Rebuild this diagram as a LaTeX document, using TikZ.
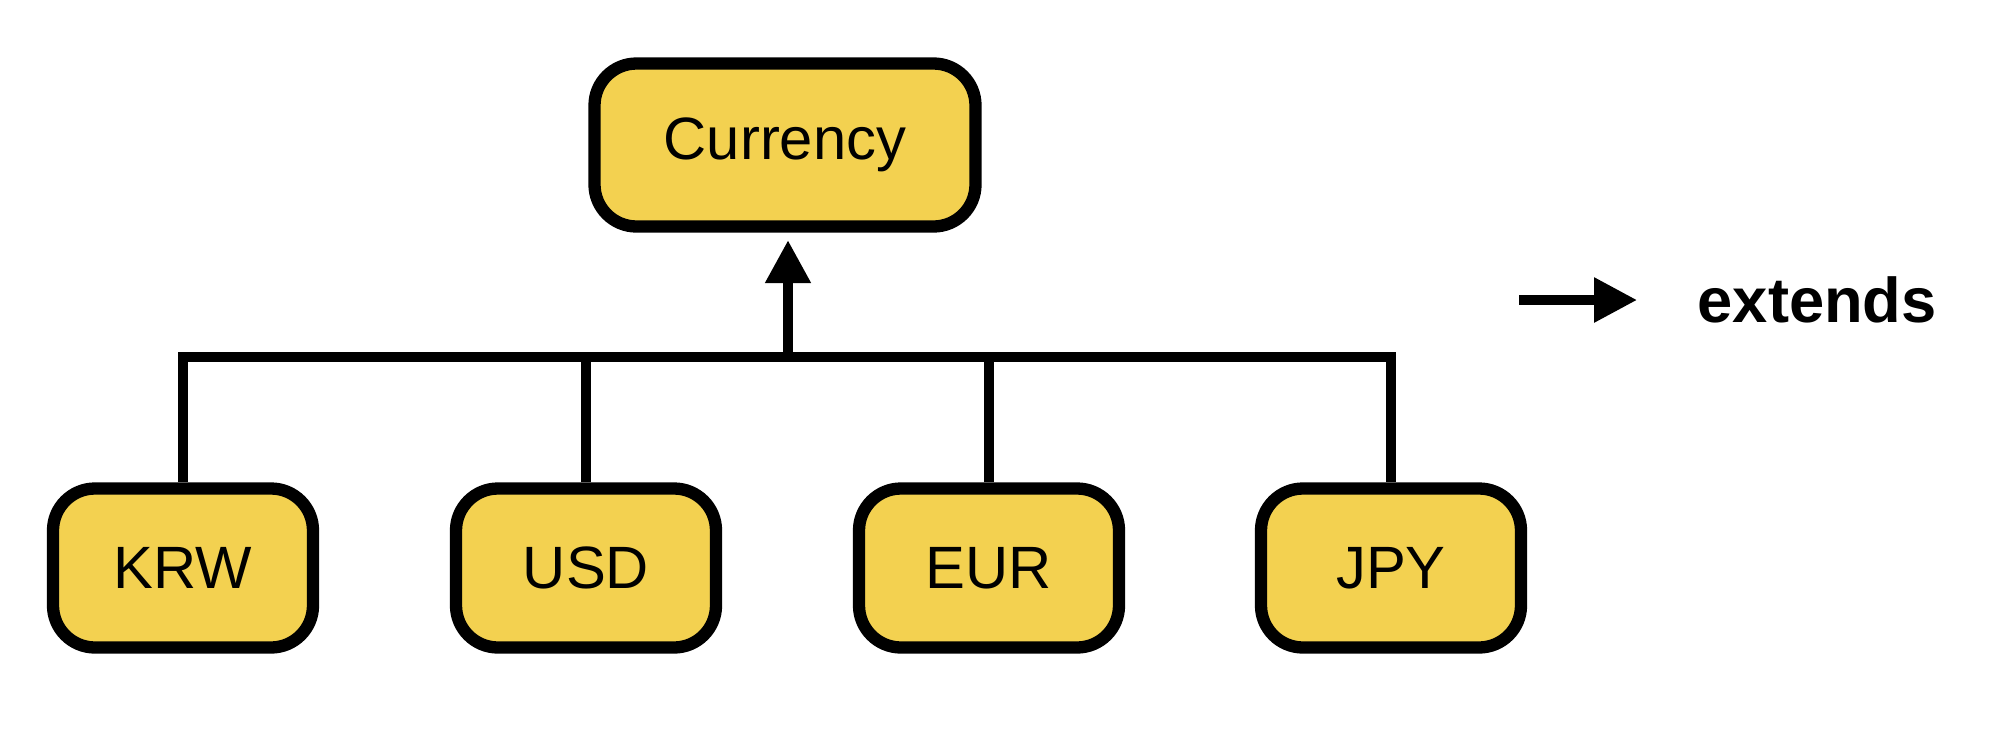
\documentclass[tikz,border=0pt]{standalone}
\usepackage{fontspec}
\setmainfont{Liberation Sans}
\usetikzlibrary{arrows.meta}
\definecolor{boxyellow}{RGB}{243,209,80}
\begin{document}
\begin{tikzpicture}[
  classbox/.style={draw,line width=3.5pt,rounded corners=0.42cm,fill=boxyellow,
    font=\fontsize{17}{20}\selectfont,inner sep=0pt},
  subbox/.style={classbox,minimum width=2.6cm,minimum height=1.59cm},
  link/.style={line width=3pt},
  extarrow/.style={link,-{Triangle[length=0.43cm,width=0.43cm]}}
]
\useasboundingbox (0,0) rectangle (20,-7.44);
\node[classbox,minimum width=3.81cm,minimum height=1.63cm] (currency) at (7.85,-1.45) {Currency};
\node[subbox] (krw) at (1.83,-5.68) {KRW};
\node[subbox] (usd) at (5.86,-5.68) {USD};
\node[subbox] (eur) at (9.89,-5.68) {EUR};
\node[subbox] (jpy) at (13.91,-5.68) {JPY};
\coordinate (bus) at (7.88,-3.57);
\draw[link] (krw.north) -- (krw.north |- bus) -- (jpy.north |- bus) -- (jpy.north);
\draw[link] (usd.north) -- (usd.north |- bus);
\draw[link] (eur.north) -- (eur.north |- bus);
\draw[extarrow] (bus) -- (7.88,-2.40);
\node[inner sep=0pt,anchor=west,font=\fontsize{18}{21}\selectfont\bfseries] (extends) at (16.97,-3.00) {extends};
\coordinate (legend) at (15.19,-3.00);
\draw[extarrow,line width=2.6pt] (legend) -- ([xshift=-0.6cm]extends.west);
\end{tikzpicture}
\end{document}
